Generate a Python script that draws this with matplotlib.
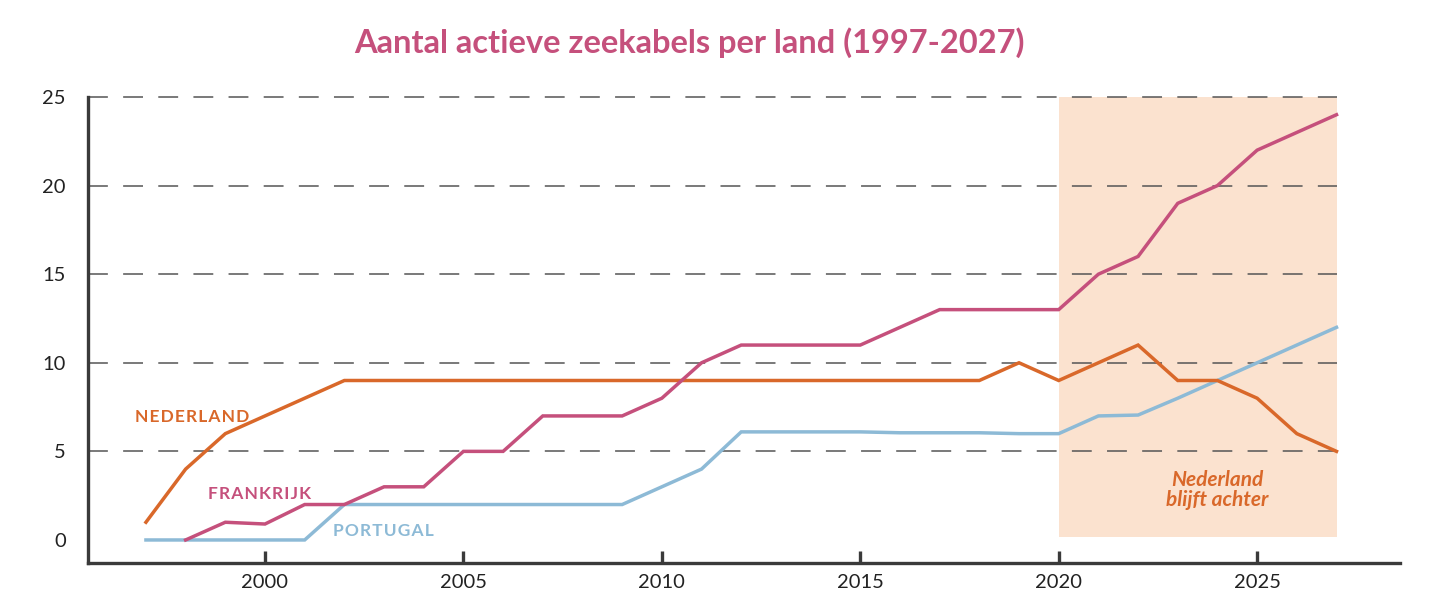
import matplotlib
matplotlib.use('Agg')
import matplotlib.pyplot as plt

years = list(range(1997, 2028))

nederland = [1, 4, 6, 7, 8, 9, 9, 9, 9, 9, 9, 9, 9, 9, 9, 9, 9, 9, 9, 9, 9, 9,
             10, 9, 10, 11, 9, 9, 8, 6, 5]
frankrijk_years = list(range(1998, 2028))
frankrijk = [0, 1, 0.9, 2, 2, 3, 3, 5, 5, 7, 7, 7, 8, 10, 11, 11, 11, 11, 12, 13,
             13, 13, 13, 15, 16, 19, 20, 22, 23, 24]
portugal = [0, 0, 0, 0, 0, 2, 2, 2, 2, 2, 2, 2, 2, 3, 4, 6.1, 6.1, 6.1, 6.1, 6.05,
            6.05, 6.05, 6.0, 6.0, 7, 7.05, 8, 9, 10, 11, 12]

xticks = [2000, 2005, 2010, 2015, 2020, 2025]
yticks = [0, 5, 10, 15, 20, 25]

c_ned = '#d9682a'
c_fra = '#c5507c'
c_por = '#8dbad6'
c_axis = '#3a3a3a'

plt.rcParams['font.family'] = ['Lato', 'DejaVu Sans']

fig = plt.figure(figsize=(14.4, 6.12), dpi=100)
ax = fig.add_axes([88 / 1440, 1 - 563 / 612, (1400 - 88) / 1440, (563 - 97) / 612])
ax.set_xlim(1995.54, 2028.6)
ax.set_ylim(-1.3, 25)

# shaded forecast area
ax.fill_between([2020, 2027], 0.15, 25, color='#fbe2cf', lw=0, zorder=0)

# dashed gridlines
for y in yticks[1:]:
    ax.plot([1995.54, 2027], [y, y], color='#555555', lw=1.1, dashes=(13, 10),
            zorder=1, clip_on=False)

ax.plot(years, nederland, color=c_ned, lw=2.5, zorder=3, solid_joinstyle='miter')
ax.plot(frankrijk_years, frankrijk, color=c_fra, lw=2.5, zorder=3, solid_joinstyle='miter')
ax.plot(years, portugal, color=c_por, lw=2.5, zorder=2, solid_joinstyle='miter')

lab = dict(fontsize=12.5, fontweight='bold', va='center')
ax.text(1996.72, 6.95, 'N E D E R L A N D'.replace(' ', '\u200a'), color=c_ned, **lab)
ax.text(1998.56, 2.6, 'F R A N K R I J K'.replace(' ', '\u200a'), color=c_fra, **lab)
ax.text(2001.71, 0.5, 'P O R T U G A L'.replace(' ', '\u200a'), color=c_por, **lab)
ax.text(2024.0, 2.82, 'Nederland\nblijft achter', color=c_ned, fontsize=15,
        fontweight='bold', fontstyle='italic', ha='center', va='center', linespacing=1.0)

for s in ['top', 'right']:
    ax.spines[s].set_visible(False)
for s in ['left', 'bottom']:
    ax.spines[s].set_color(c_axis)
    ax.spines[s].set_linewidth(2.4)

ax.set_xticks(xticks)
ax.set_yticks(yticks)
ax.tick_params(axis='x', direction='in', length=9, width=2.4, color=c_axis,
               labelsize=14.5, labelcolor='#222222', pad=8)
ax.tick_params(axis='y', length=0, labelsize=14.5, labelcolor='#222222', pad=16)

fig.text(0.479, 0.93, 'Aantal actieve zeekabels per land (1997-2027)', color='#c5507c',
         fontsize=23.5, fontweight='bold', ha='center', va='center')

plt.savefig('out.png', dpi=100)
